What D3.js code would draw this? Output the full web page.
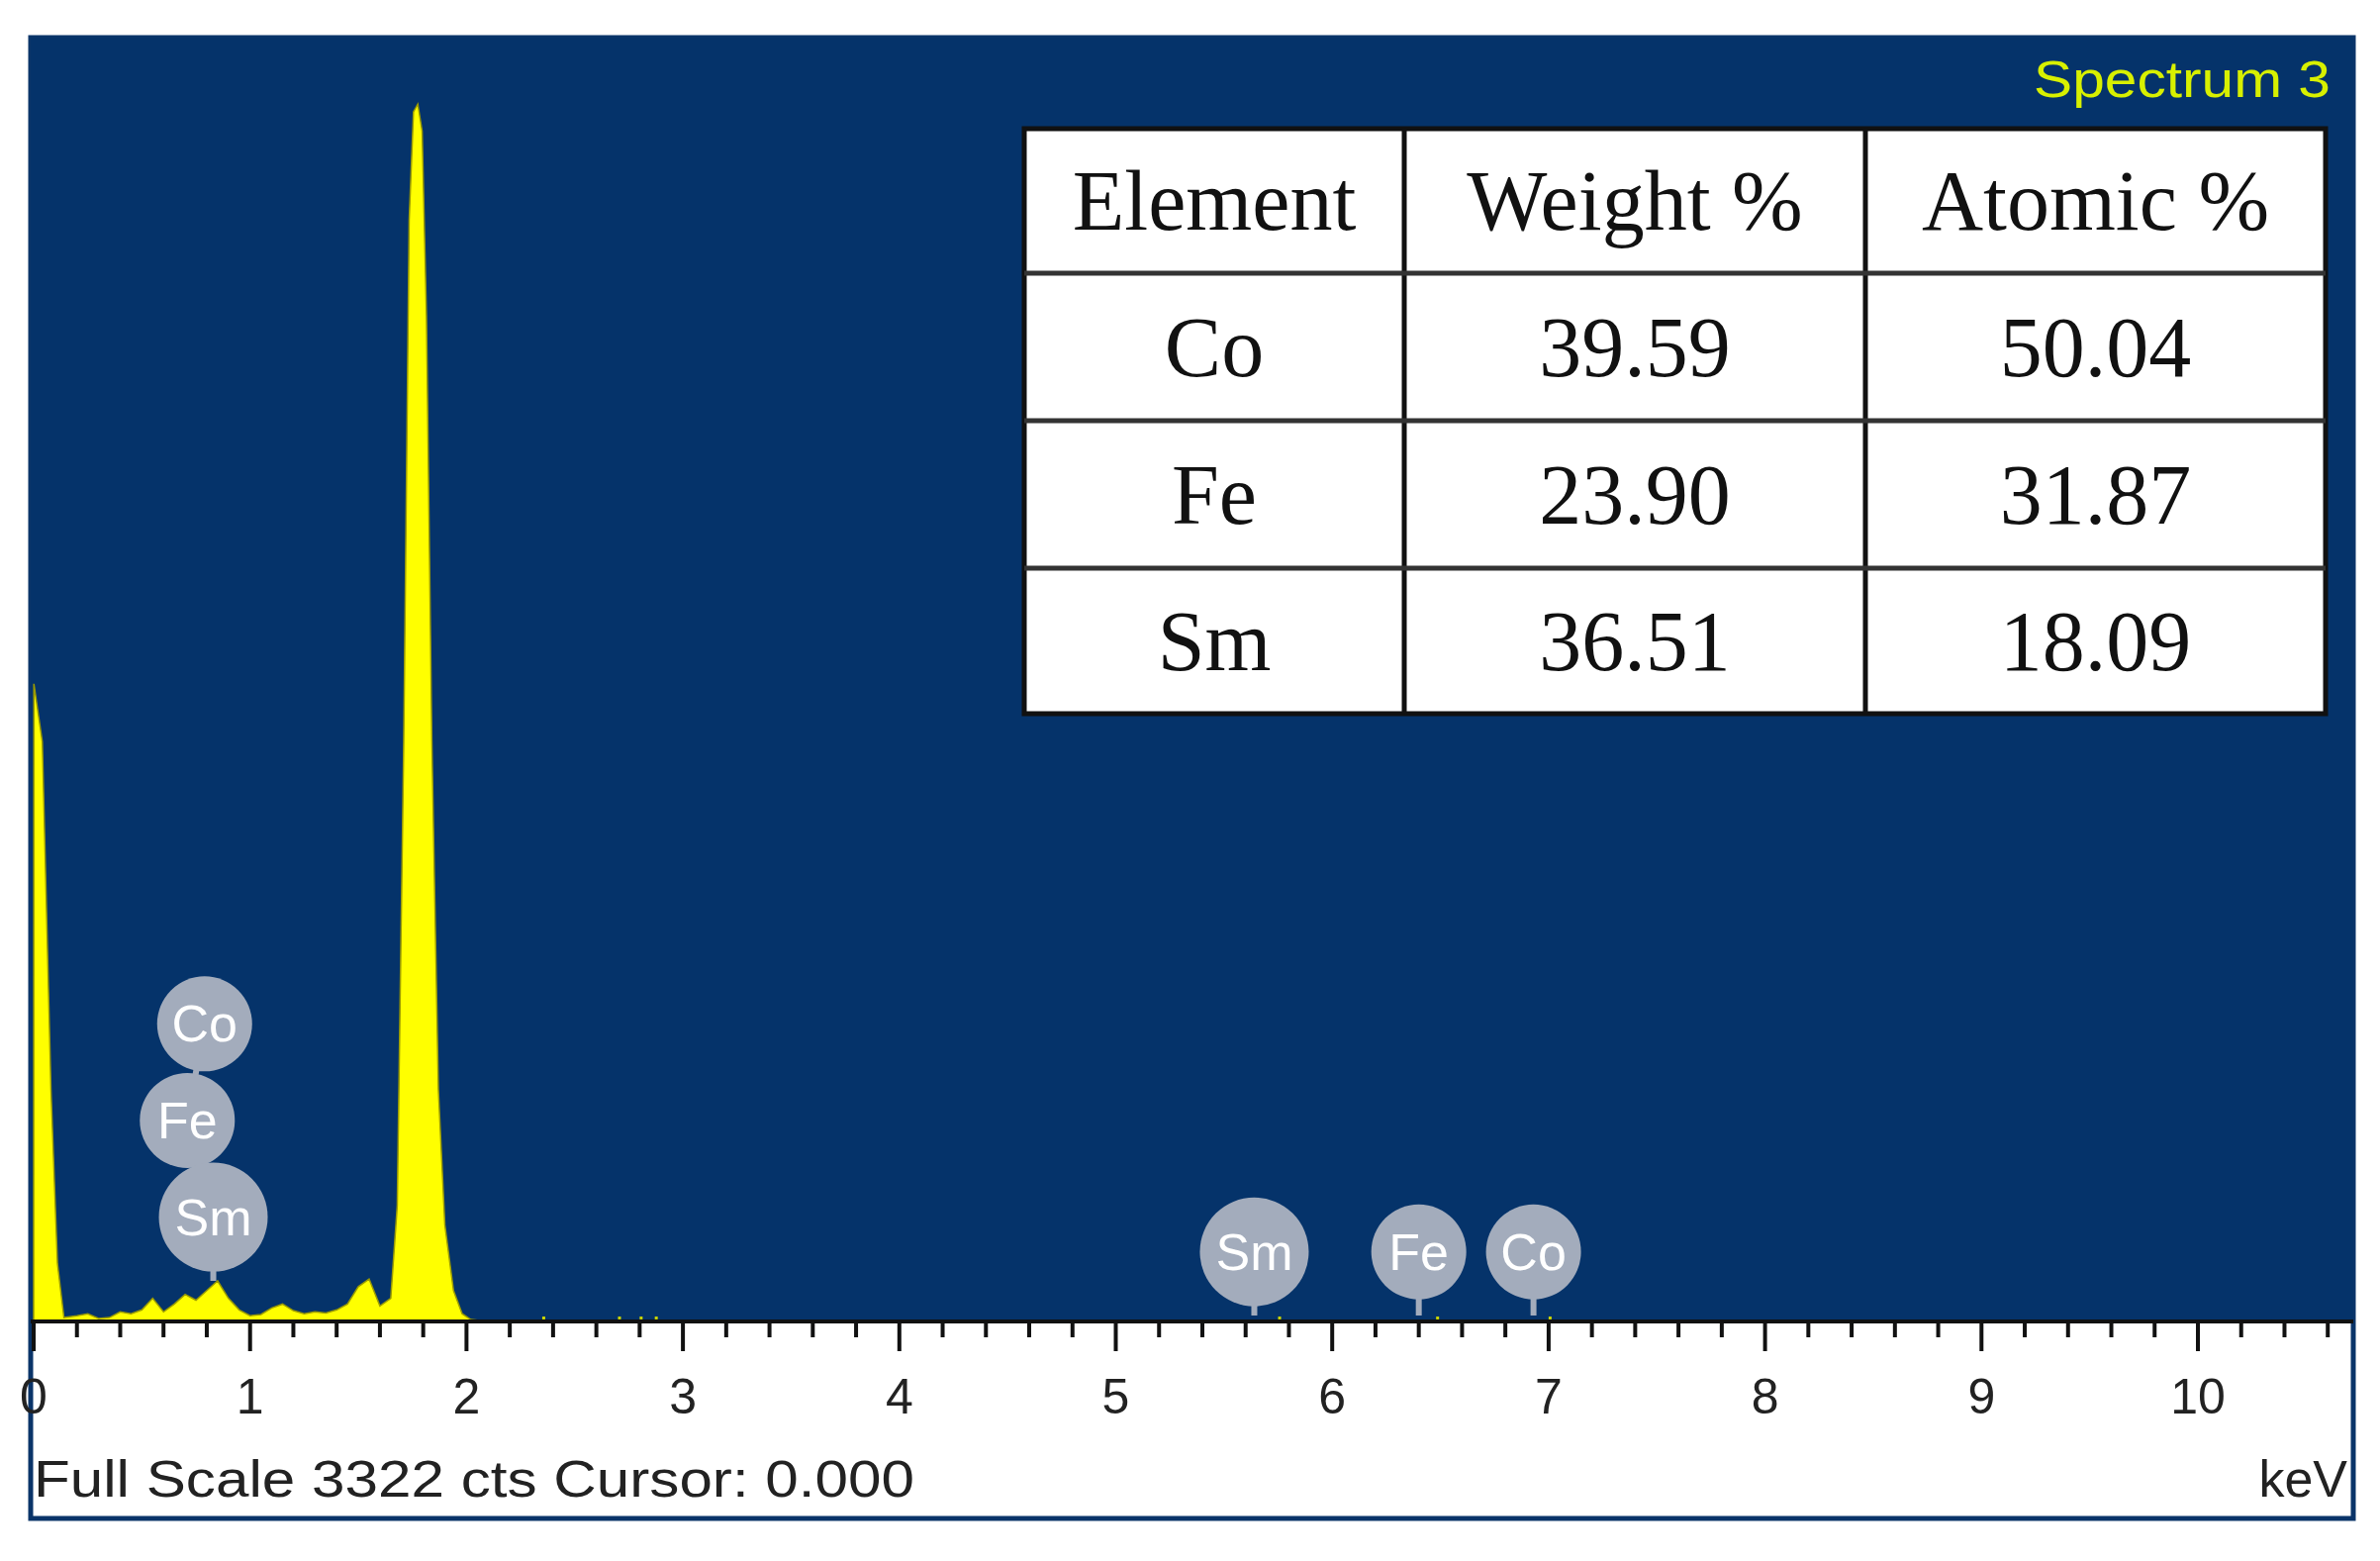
<!DOCTYPE html>
<html>
<head>
<meta charset="utf-8">
<script src="https://cdn.jsdelivr.net/npm/d3@7"></script>
<style>
  body { margin: 0; background: #fff; }
  svg { display: block; }
</style>
</head>
<body>
<svg id="chart"></svg>
<script>
// spectrum samples: [keV, counts]
const spectrumKeV = [0, 0.001, 0.04, 0.08, 0.11, 0.14, 0.2, 0.25, 0.3, 0.35, 0.4, 0.45, 0.5, 0.55, 0.6, 0.65, 0.7, 0.75, 0.8, 0.85, 0.9, 0.95, 1.0, 1.05, 1.1, 1.15, 1.2, 1.25, 1.3, 1.35, 1.4, 1.45, 1.5, 1.55, 1.6, 1.65, 1.68, 1.71, 1.735, 1.755, 1.775, 1.795, 1.815, 1.84, 1.87, 1.9, 1.94, 1.98, 2.02, 2.1];
const spectrumCts = [0, 1650, 1500, 600, 150, 10, 15, 20, 8, 10, 25, 20, 30, 60, 25, 45, 70, 55, 80, 105, 60, 30, 15, 18, 35, 45, 28, 20, 25, 22, 30, 45, 90, 110, 40, 60, 300, 1500, 2850, 3130, 3150, 3080, 2600, 1500, 600, 250, 80, 20, 5, 0];
const fullScale = 3322;
const xTicks = [0, 1, 2, 3, 4, 5, 6, 7, 8, 9, 10];

// element markers: [label, keV, bubble height above baseline in counts]
const markerLabels = ["Co", "Fe", "Sm", "Sm", "Fe", "Co"];
const markerKeV = [0.79, 0.71, 0.83, 5.64, 6.40, 6.93];
const markerCts = [770, 520, 270, 180, 180, 180];

const tableHead = ["Element", "Weight %", "Atomic %"];
const tableElements = ["Co", "Fe", "Sm"];
const tableWeight = ["39.59", "23.90", "36.51"];
const tableAtomic = ["50.04", "31.87", "18.09"];

const width = 2405, height = 1577;
const frame = { left: 31, top: 38, right: 2378, bottom: 1534 };
const axisY = 1335;

const svg = d3.select("#chart").attr("width", width).attr("height", height);

const x = d3.scaleLinear().domain([0, 10]).range([34, 2221]);
const y = d3.scaleLinear().domain([0, fullScale]).range([axisY, frame.top]);

// frame
svg.append("rect")
  .attr("x", frame.left).attr("y", frame.top)
  .attr("width", frame.right - frame.left).attr("height", frame.bottom - frame.top)
  .attr("fill", "#fff").attr("stroke", "#0a3469").attr("stroke-width", 5);
svg.append("rect")
  .attr("x", frame.left).attr("y", frame.top)
  .attr("width", frame.right - frame.left).attr("height", axisY - frame.top)
  .attr("fill", "#05336a");

// spectrum
const pts = spectrumKeV.map((k, i) => [k, spectrumCts[i]]);
const area = d3.area().x((d) => x(d[0])).y0(axisY).y1((d) => y(d[1]));
svg.append("path").datum(pts).attr("d", area)
  .attr("fill", "#ffff00").attr("stroke", "#9a9a00").attr("stroke-width", 1.5);
// faint dotted background counts beyond 2 keV
svg.append("g").selectAll("rect")
  .data([2.35, 2.7, 2.8, 2.87, 5.75, 6.48, 7.0])
  .join("rect")
  .attr("x", (d) => x(d)).attr("y", axisY - 5).attr("width", 3).attr("height", 3)
  .attr("fill", "#c8d400");

// axis line
svg.append("line")
  .attr("x1", frame.left).attr("x2", frame.right)
  .attr("y1", axisY).attr("y2", axisY)
  .attr("stroke", "#111").attr("stroke-width", 4);

// ticks
const minor = d3.range(0, 10.75, 0.2).filter((d) => Math.abs(d - Math.round(d)) > 0.01);
svg.append("g").selectAll("line").data(minor).join("line")
  .attr("x1", (d) => x(d)).attr("x2", (d) => x(d))
  .attr("y1", axisY).attr("y2", axisY + 16)
  .attr("stroke", "#111").attr("stroke-width", 4);
svg.append("g").selectAll("line").data(xTicks).join("line")
  .attr("x1", (d) => x(d)).attr("x2", (d) => x(d))
  .attr("y1", axisY).attr("y2", axisY + 30)
  .attr("stroke", "#111").attr("stroke-width", 4);
svg.append("g").selectAll("text").data(xTicks).join("text")
  .attr("x", (d) => x(d)).attr("y", 1428)
  .attr("text-anchor", "middle")
  .attr("font-family", "Liberation Sans, Arial, sans-serif")
  .attr("font-size", 50).attr("fill", "#222")
  .text((d) => d);

svg.append("text").attr("x", 34).attr("y", 1512)
  .attr("font-family", "Liberation Sans, Arial, sans-serif")
  .attr("font-size", 52).attr("fill", "#222")
  .attr("textLength", 890).attr("lengthAdjust", "spacingAndGlyphs")
  .text("Full Scale 3322 cts Cursor: 0.000");
svg.append("text").attr("x", 2372).attr("y", 1512).attr("text-anchor", "end")
  .attr("font-family", "Liberation Sans, Arial, sans-serif")
  .attr("font-size", 52).attr("fill", "#222").text("keV");

// spectrum name
svg.append("text").attr("x", 2355).attr("y", 98).attr("text-anchor", "end")
  .attr("font-family", "Liberation Sans, Arial, sans-serif")
  .attr("font-size", 52).attr("fill", "#d8f000")
  .attr("textLength", 300).attr("lengthAdjust", "spacingAndGlyphs")
  .text("Spectrum 3");

// element markers: left stack is chained Co -> Fe -> Sm -> peak
const markers = svg.append("g");
const cx = (i) => x(markerKeV[i]), cy = (i) => y(markerCts[i]);
const chain = [[cx(0), cy(0)], [cx(1), cy(1)], [cx(2), cy(2)], [cx(2), y(105)]];
markers.append("path").attr("d", d3.line()(chain))
  .attr("fill", "none").attr("stroke", "#a3acbc").attr("stroke-width", 6);
[3, 4, 5].forEach((i) => markers.append("line")
  .attr("x1", cx(i)).attr("x2", cx(i)).attr("y1", cy(i)).attr("y2", axisY - 6)
  .attr("stroke", "#a3acbc").attr("stroke-width", 6));
markerLabels.forEach((lab, i) => {
  const r = lab === "Sm" ? 55 : 48;
  markers.append("circle").attr("cx", cx(i)).attr("cy", cy(i)).attr("r", r)
    .attr("fill", "#a3acbc");
  markers.append("text").attr("x", cx(i)).attr("y", cy(i) + 18)
    .attr("text-anchor", "middle")
    .attr("font-family", "Liberation Sans, Arial, sans-serif")
    .attr("font-size", 52).attr("fill", "#fff").text(lab);
});

// composition table
const colX = [1035, 1419, 1885, 2350];
const rowY = [130, 276, 425, 574, 721];
const rows = [tableHead].concat(tableElements.map((e, i) => [e, tableWeight[i], tableAtomic[i]]));
const tbl = svg.append("g");
tbl.append("rect").attr("x", colX[0]).attr("y", rowY[0])
  .attr("width", colX[3] - colX[0]).attr("height", rowY[4] - rowY[0])
  .attr("fill", "#fff").attr("stroke", "#111").attr("stroke-width", 5);
colX.slice(1, 3).forEach((lx) => tbl.append("line")
  .attr("x1", lx).attr("x2", lx).attr("y1", rowY[0]).attr("y2", rowY[4])
  .attr("stroke", "#111").attr("stroke-width", 5));
rowY.slice(1, 4).forEach((ry) => tbl.append("line")
  .attr("x1", colX[0]).attr("x2", colX[3]).attr("y1", ry).attr("y2", ry)
  .attr("stroke", "#333").attr("stroke-width", 5));
rows.forEach((r, ri) => r.forEach((t, ci) => {
  tbl.append("text")
    .attr("x", (colX[ci] + colX[ci + 1]) / 2)
    .attr("y", (rowY[ri] + rowY[ri + 1]) / 2 + 29)
    .attr("text-anchor", "middle")
    .attr("font-family", "Liberation Serif, Times New Roman, serif")
    .attr("font-size", 86).attr("fill", "#111").text(t);
}));
</script>
</body>
</html>
